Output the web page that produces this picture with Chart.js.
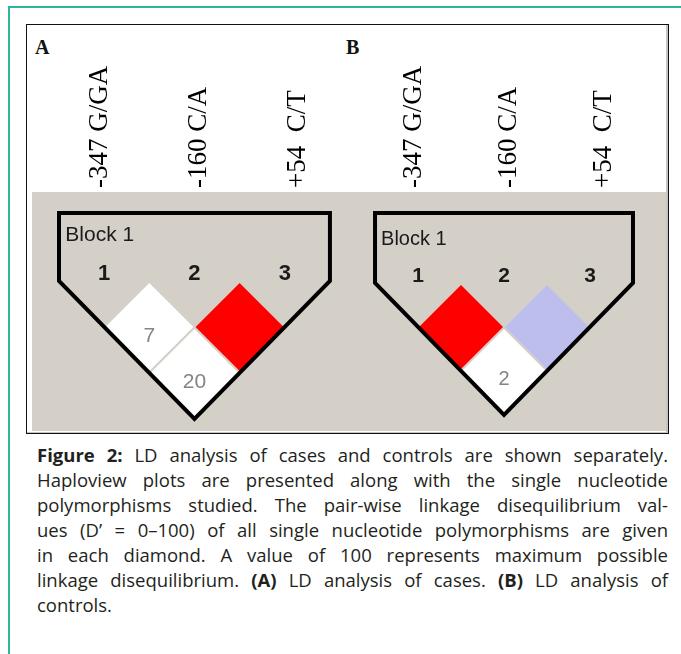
<!DOCTYPE html>
<html>
<head>
<meta charset="utf-8">
<script src="https://cdn.jsdelivr.net/npm/chart.js@4.4.0/dist/chart.umd.min.js"></script>
<style>
  html, body { margin: 0; padding: 0; background: #fff; }
  body { width: 681px; height: 654px; position: relative; overflow: hidden; }
  .teal { position: absolute; left: 8px; top: 6px; width: 700px; height: 700px;
          border-left: 2px solid #2bb59b; border-top: 2px solid #2bb59b; }
  .frame { position: absolute; left: 26px; top: 24px; width: 641px; height: 408px;
           border: 1px solid #111; background: #fff; box-shadow: inset -2px -1px 0 #c4c4c4; }
  .gray { position: absolute; left: 32px; top: 192px; width: 634px; height: 239px; background: #d4d0c8; }
  .letter { position: absolute; top: 37px; font: bold 20px/20px "Liberation Serif", "Times New Roman", serif; color: #111; }
  canvas { position: absolute; }
  .caption { position: absolute; left: 37px; top: 442px; width: 631px;
             font-family: "Open Sans", sans-serif; font-size: 18.5px; color: #231f20; }
  .caption div { height: 25px; line-height: 25px; text-align: justify; text-align-last: justify; }
  .caption div.last { text-align-last: left; }
</style>
</head>
<body>
<div class="teal"></div>
<div class="frame"></div>
<div class="gray"></div>
<div class="letter" style="left:35px">A</div>
<div class="letter" style="left:346px">B</div>
<canvas id="chartA" width="320" height="409" style="left:27px; top:24px"></canvas>
<canvas id="chartB" width="321" height="409" style="left:347px; top:24px"></canvas>
<div class="caption">
  <div><b>Figure 2:</b> LD analysis of cases and controls are shown separately.</div>
  <div>Haploview plots are presented along with the single nucleotide</div>
  <div>polymorphisms studied. The pair-wise linkage disequilibrium val-</div>
  <div>ues (D’ = 0–100) of all single nucleotide polymorphisms are given</div>
  <div>in each diamond. A value of 100 represents maximum possible</div>
  <div>linkage disequilibrium. <b>(A)</b> LD analysis of cases. <b>(B)</b> LD analysis of</div>
  <div class="last">controls.</div>
</div>
<script>
// markers in the block
const snpNumbers = [1, 2, 3];
const snpNames = ['-347 G/GA', '-160 C/A', '+54  C/T'];
const blockLabel = 'Block 1';

// pairwise comparisons (marker i vs marker j)
const pairFirst = [1, 2, 1];
const pairSecond = [2, 3, 3];

// D' x 100 for each pair, and whether LOD >= 2
const casesDprime = [7, 100, 20];
const casesLodHigh = [false, true, false];
const controlsDprime = [100, 100, 2];
const controlsLodHigh = [true, false, false];

// standard haploview colour scheme
function ldColour(d, lodHigh) {
    if (lodHigh) {
        if (d >= 100) return 'rgb(255,0,0)';
        const g = Math.round(255 - 2.2 * d);
        return 'rgb(255,' + g + ',' + g + ')';
    }
    return d >= 100 ? 'rgb(190,190,238)' : 'rgb(255,255,255)';
}

function makeLdChart(canvasId, dprime, lodHigh, layout) {
    const first = snpNumbers[0];
    const last = snpNumbers[snpNumbers.length - 1];
    const bottom = (last - first) / 2 + 0.5;
    const outline = [
        {x: first - 0.5, y: layout.blockTop},
        {x: first - 0.5, y: 0},
        {x: (first + last) / 2, y: bottom},
        {x: last + 0.5, y: 0},
        {x: last + 0.5, y: layout.blockTop},
        {x: first - 0.5, y: layout.blockTop}
    ];
    const diamonds = pairFirst.map((a, i) => ({x: (a + pairSecond[i]) / 2, y: (pairSecond[i] - a) / 2}));

    const textPlugin = {
        id: 'ldText',
        afterDatasetsDraw(chart) {
            const {ctx, scales: {x, y}} = chart;
            const unit = x.getPixelForValue(1) - x.getPixelForValue(0);
            const fs = Math.round(unit * 0.233);
            const family = '"Liberation Sans", Arial, sans-serif';
            ctx.save();
            ctx.textBaseline = 'middle';
            ctx.fillStyle = '#1a1a1a';
            ctx.font = fs + 'px ' + family;
            ctx.textAlign = 'left';
            ctx.fillText(blockLabel, x.getPixelForValue(first - 0.43), y.getPixelForValue(-0.5));
            ctx.font = 'bold ' + (fs + 1) + 'px ' + family;
            ctx.textAlign = 'center';
            snpNumbers.forEach(n => ctx.fillText(String(n), x.getPixelForValue(n), y.getPixelForValue(-0.08)));
            ctx.font = fs + 'px ' + family;
            ctx.fillStyle = '#858585';
            dprime.forEach((d, i) => {
                if (d >= 100) return;
                ctx.fillText(String(d), x.getPixelForValue(diamonds[i].x), y.getPixelForValue(diamonds[i].y + 0.1));
            });
            ctx.restore();
        }
    };

    return new Chart(document.getElementById(canvasId), {
        type: 'scatter',
        data: {
            datasets: [{
                data: outline,
                showLine: true,
                borderColor: '#000',
                borderWidth: 4,
                borderJoinStyle: 'miter',
                borderCapStyle: 'square',
                pointRadius: 0,
                fill: false
            }, {
                data: diamonds,
                pointStyle: 'rectRot',
                backgroundColor: dprime.map((d, i) => ldColour(d, lodHigh[i])),
                borderWidth: 0,
                pointRadius: ctx => {
                    const s = ctx.chart.scales;
                    const ux = s.x.getPixelForValue(1) - s.x.getPixelForValue(0);
                    const uy = s.y.getPixelForValue(1) - s.y.getPixelForValue(0);
                    const r = (Math.abs(ux) + Math.abs(uy)) / 4 - 1.5;
                    return isFinite(r) && r > 0 ? r : 40;
                }
            }]
        },
        options: {
            responsive: false,
            animation: false,
            events: [],
            layout: {padding: layout.padding, autoPadding: false},
            plugins: {legend: {display: false}, tooltip: {enabled: false}},
            scales: {
                x: {type: 'linear', display: false, min: layout.x[0], max: layout.x[1]},
                y: {type: 'linear', display: false, reverse: true, min: layout.y[0], max: layout.y[1]},
                x2: {
                    type: 'linear',
                    position: 'top',
                    min: layout.x2[0],
                    max: layout.x2[1],
                    grid: {display: false},
                    border: {display: false},
                    afterBuildTicks: axis => { axis.ticks = snpNumbers.map(v => ({value: v})); },
                    afterFit: axis => {
                        axis.height = 168;
                        axis.paddingLeft = 0;
                        axis.paddingRight = 0;
                    },
                    ticks: {
                        autoSkip: false,
                        minRotation: 90,
                        maxRotation: 90,
                        padding: -4,
                        color: '#000',
                        font: {family: '"Liberation Serif", "Times New Roman", serif', size: 27, lineHeight: 0.01},
                        callback: v => snpNames[snpNumbers.indexOf(v)]
                    }
                }
            }
        },
        plugins: [textPlugin]
    });
}

makeLdChart('chartA', casesDprime, casesLodHigh, {
    padding: {left: 5, right: 0, top: 0, bottom: 2},
    x: [0.201, 3.689], y: [-0.967, 1.631], x2: [0.313, 3.495], blockTop: -0.74
});
makeLdChart('chartB', controlsDprime, controlsLodHigh, {
    padding: {left: 0, right: 2, top: 0, bottom: 2},
    x: [0.174, 3.884], y: [-1.034, 1.682], x2: [0.298, 3.656], blockTop: -0.795
});
</script>
</body>
</html>
